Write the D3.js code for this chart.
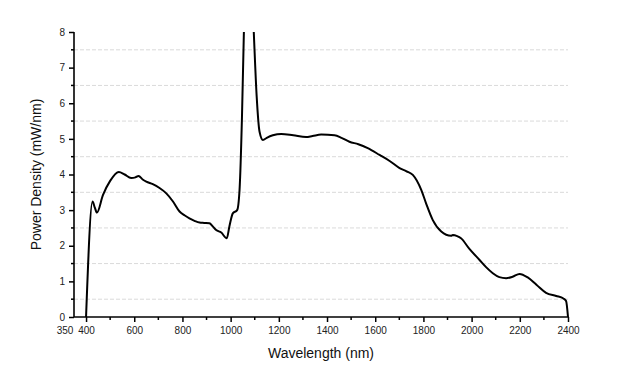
<!DOCTYPE html>
<html><head><meta charset="utf-8">
<script src="https://cdn.jsdelivr.net/npm/d3@7"></script>
<style>body{margin:0;background:#fff}svg{display:block}text{font-family:"Liberation Sans",Arial,sans-serif}</style>
</head><body><svg id="c" width="625" height="366"></svg>
<script>
const wavelength = [400,427,436,445,470,500,536,560,587,605,618,635,650,677,705,733,760,788,810,829,850,871,890,912,925,940,961,984,995,1009,1027,1037,1047,1055,1075,1096,1108,1120,1134,1150,1175,1210,1260,1313,1340,1376,1431,1460,1493,1530,1569,1618,1660,1701,1730,1756,1791,1811,1839,1874,1915,1922,1940,1956,1990,2033,2060,2088,2115,2143,2170,2199,2233,2270,2309,2351,2381,2392,2400];
const power = [0,3.24,3.08,2.93,3.42,3.82,4.07,4.0,3.90,3.92,3.96,3.86,3.80,3.73,3.62,3.47,3.25,2.96,2.85,2.77,2.70,2.65,2.64,2.63,2.55,2.44,2.37,2.21,2.55,2.91,3.0,3.57,5.6,8.0,11.5,8.0,6.2,5.2,4.97,5.03,5.10,5.14,5.10,5.05,5.08,5.12,5.10,5.03,4.92,4.85,4.74,4.55,4.38,4.18,4.09,3.99,3.57,3.19,2.72,2.40,2.28,2.30,2.27,2.21,1.92,1.60,1.40,1.23,1.12,1.09,1.13,1.21,1.11,0.90,0.68,0.59,0.52,0.45,0];
const xTicks = [400,600,800,1000,1200,1400,1600,1800,2000,2200,2400];
const xMinor = [500,700,900,1100,1300,1500,1700,1900,2100,2300];
const yTicks = [0,1,2,3,4,5,6,7,8];
const yMinor = [0.5,1.5,2.5,3.5,4.5,5.5,6.5,7.5];

const svg = d3.select("#c");
const L=74, R=568, T=32, B=317;
const x = d3.scaleLinear().domain([350,2400]).range([L,R]);
const y = d3.scaleLinear().domain([0,8]).range([B,T]);

svg.append("g").selectAll("line").data(yMinor).join("line")
  .attr("x1",L).attr("x2",R).attr("y1",d=>y(d)).attr("y2",d=>y(d))
  .attr("stroke","#dadada").attr("stroke-width",1).attr("stroke-dasharray","4,2");

svg.append("clipPath").attr("id","clip").append("rect")
  .attr("x",L).attr("y",T).attr("width",R-L+4).attr("height",B-T);

const line = d3.line().x((d,i)=>x(wavelength[i])).y(d=>y(d)).curve(d3.curveMonotoneX);
svg.append("path").datum(power).attr("d",line).attr("clip-path","url(#clip)")
  .attr("fill","none").attr("stroke","#000").attr("stroke-width",2).attr("stroke-linejoin","round");

const ya = svg.append("g").attr("transform",`translate(${L},0)`)
  .call(d3.axisLeft(y).tickValues(yTicks).tickSize(5).tickPadding(4).tickFormat(d3.format("d")));
ya.append("g").selectAll("line").data(yMinor).join("line")
  .attr("x1",0).attr("x2",-3).attr("y1",d=>y(d)).attr("y2",d=>y(d)).attr("stroke","#000").attr("stroke-width",1.5);
const xa = svg.append("g").attr("transform",`translate(0,${B})`)
  .call(d3.axisBottom(x).tickValues(xTicks).tickSize(5).tickPadding(5).tickFormat(d3.format("d")));
xa.append("g").selectAll("line").data(xMinor).join("line")
  .attr("y1",0).attr("y2",3).attr("x1",d=>x(d)).attr("x2",d=>x(d)).attr("stroke","#000").attr("stroke-width",1.5);
xa.append("text").attr("x",x(350)-9).attr("y",10).attr("dy","0.71em").attr("text-anchor","middle").text("350");

[ya,xa].forEach(g=>{
  g.select(".domain").attr("stroke","#000").attr("stroke-width",1.6);
  g.selectAll(".tick line").attr("stroke","#000").attr("stroke-width",1.5);
  g.selectAll("text").attr("font-size",10).attr("fill","#222").attr("font-family","'Liberation Sans',Arial,sans-serif");
});
xa.select(".domain").attr("d",`M${L},0H${R}`);
ya.select(".domain").attr("d",`M0,${B}V${T}`);

svg.append("text").attr("x",(L+R)/2).attr("y",358).attr("text-anchor","middle")
  .attr("font-size",14).attr("fill","#111").text("Wavelength (nm)");
svg.append("text").attr("transform",`translate(41,${(T+B)/2}) rotate(-90)`).attr("text-anchor","middle")
  .attr("font-size",14).attr("fill","#111").text("Power Density (mW/nm)");
</script></body></html>
